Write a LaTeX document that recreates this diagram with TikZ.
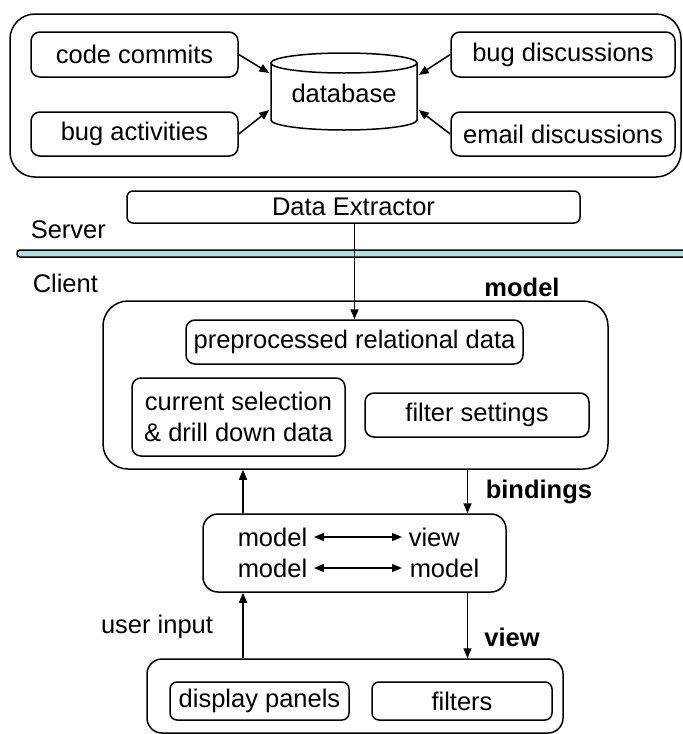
\documentclass[tikz,border=0pt]{standalone}
\usepackage{fontspec}
\setmainfont{Liberation Sans}
\usetikzlibrary{arrows.meta}
\definecolor{barblue}{RGB}{180,222,226}
\begin{document}
\begin{tikzpicture}[x=1pt,y=-1pt,
  line width=1.5pt,
  every node/.style={font=\fontsize{25.5pt}{31pt}\selectfont, inner sep=0pt},
  box/.style={draw, rounded corners=9pt, minimum width=#1},
  bigbox/.style={draw, rounded corners=25pt},
  lbl/.style={font=\fontsize{25.5pt}{31pt}\selectfont\bfseries},
  arr/.style={-{Triangle[length=10pt,width=8pt]}},
  darr/.style={{Triangle[length=10pt,width=8pt]}-{Triangle[length=10pt,width=8pt]}}
]
\useasboundingbox (0,0) rectangle (683,734);

% ---- server top box
\node[bigbox, minimum width=671pt, minimum height=163pt] (outer) at (345.5,95.5) {};
\node[box=207pt, minimum height=45pt] (cc) at (134.5,54.5) {code commits};
\node[box=207pt, minimum height=44pt] (ba) at (134.5,134) {bug activities};
\node[box=224pt, minimum height=45pt] (bd) at (563,54.5) {bug discussions};
\node[box=224pt, minimum height=44pt] (ed) at (563,134) {email discussions};

% database cylinder
\draw[fill=white] (271,63) -- (271,120) arc[start angle=180, end angle=360, x radius=73pt, y radius=10pt] -- (417,63);
\draw (344,63) ellipse[x radius=73pt, y radius=10pt];
\node[minimum width=148pt, minimum height=77pt] (db) at (344,93) {database};

\draw[arr] (cc.east) -- ([yshift=20pt]db.west);
\draw[arr] (ba.east) -- ([yshift=-17pt]db.west);
\draw[arr] (bd.west) -- ([yshift=18pt]db.east);
\draw[arr] (ed.west) -- ([yshift=-17pt]db.east);

% ---- data extractor and separator
\node[box=453pt, minimum height=32pt, rounded corners=6pt] (de) at (353.5,207) {Data Extractor};
\node[anchor=west] (server) at (30,230) {Server};
\draw[fill=barblue, rounded corners=3pt] (17,250) rectangle (700,257);
\node[anchor=west] (client) at (32,283) {Client};

% ---- model
\node[lbl] (modellbl) at (522,287) {model};
\node[bigbox, minimum width=505pt, minimum height=168pt] (model) at (355.5,385) {};
\node[box=337pt, minimum height=44pt] (pre) at (354.5,342) {preprocessed relational data};
\node[box=213pt, minimum height=78pt, align=center] (cur) at (238.5,417) {current selection\\\& drill down data};
\node[box=224pt, minimum height=44pt] (fs) at (477,415) {filter settings};

\draw[arr] (de.south -| pre.north) -- (pre.north);

% ---- bindings
\node[draw, rounded corners=15pt, minimum width=303pt, minimum height=78pt] (bind) at (354.5,553) {};
\node[anchor=west] (m1) at (237,537) {model};
\node[anchor=west] (v1) at (408,537) {view};
\node[anchor=west] (m2) at (237,568) {model};
\node[anchor=west] (m3) at (409,568) {model};
\draw[darr] ([xshift=6pt]m1.east) -- ([xshift=-6pt]v1.west);
\draw[darr] ([xshift=6pt]m2.east) -- ([xshift=-7pt]m3.west);
\node[lbl, anchor=west] (bindlbl) at (485,492) {bindings};

\coordinate (cl) at (243,0);
\coordinate (cr) at (467.5,0);
\draw[arr] (bind.north -| cl) -- (model.south -| cl);
\draw[arr] (model.south -| cr) -- (bind.north -| cr);

% ---- view
\node (uin) at (157,627) {user input};
\node[lbl] (viewlbl) at (512,637) {view};
\node[draw, rounded corners=15pt, minimum width=416pt, minimum height=74pt] (view) at (355,696) {};
\node[box=179pt, minimum height=38pt, rounded corners=7pt] (dp) at (259.5,701) {display panels};
\node[box=180pt, minimum height=38pt, rounded corners=7pt] (fl) at (462,701) {filters};

\draw[arr] (view.north -| cl) -- (bind.south -| cl);
\draw[arr] (bind.south -| cr) -- (view.north -| cr);
\end{tikzpicture}
\end{document}
